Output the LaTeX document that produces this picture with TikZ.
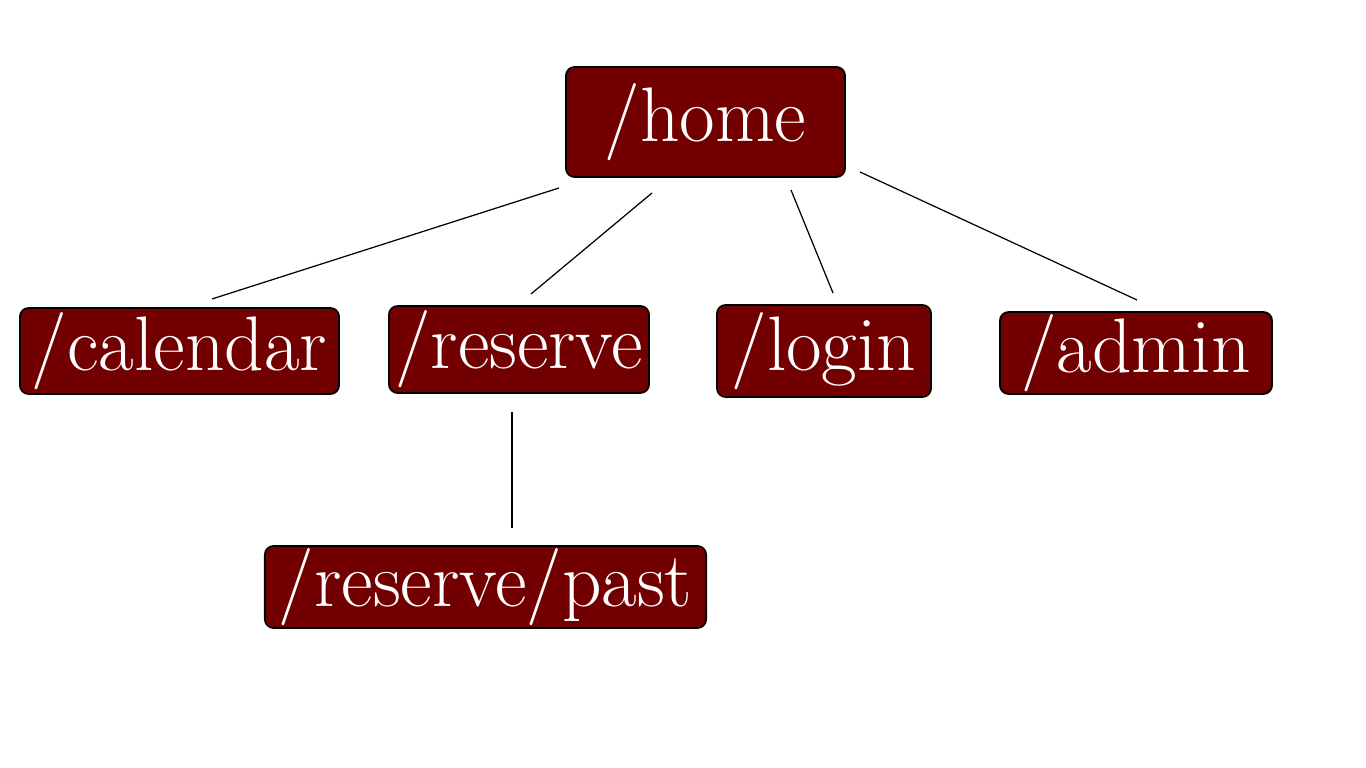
\documentclass[tikz,border=0pt]{standalone}
\usepackage{tikz}
\usetikzlibrary{calc,shapes,arrows,fit,positioning}
\definecolor{pagered}{RGB}{114,0,0}

\begin{document}
\begin{tikzpicture}[x=0.01cm, y=0.01cm]
			\tikzstyle{page}=[draw=black, line width=0.5pt, fill=pagered, text=white, rounded corners=2.5pt, inner sep=0pt, font=\fontsize{22}{26}\selectfont]
			\useasboundingbox (0,0) rectangle (1366,-768);
			\node [page, minimum width=2.79cm, minimum height=1.10cm] (home) at (705.5,-122) {/home};
			\node [page, minimum width=3.19cm, minimum height=0.86cm] (calendar) at (179.5,-351) {/calendar};
			\node [page, minimum width=2.60cm, minimum height=0.87cm] (reserve) at (519,-349.5) {/reserve};
			\node [page, minimum width=2.14cm, minimum height=0.92cm] (login) at (824,-351) {/login};
			\node [page, minimum width=2.72cm, minimum height=0.82cm] (admin) at (1136,-353) {/admin};
			\node [page, minimum width=4.41cm, minimum height=0.82cm] (past) at (485.5,-587) {/reserve/past};
			% loose ends of the links
			\coordinate (home-c) at (559,-188);
			\coordinate (home-r) at (652,-193);
			\coordinate (home-l) at (791,-190);
			\coordinate (home-a) at (860,-172);
			\coordinate (c-top) at (212,-299);
			\coordinate (r-top) at (531,-294);
			\coordinate (l-top) at (833,-293);
			\coordinate (a-top) at (1137,-300);
			\coordinate (r-bot) at (512,-412);
			\coordinate (p-top) at (512,-528);
			\draw [black, line width=0.35pt] (home-c) -- (c-top);
			\draw [black, line width=0.35pt] (home-r) -- (r-top);
			\draw [black, line width=0.35pt] (home-l) -- (l-top);
			\draw [black, line width=0.35pt] (home-a) -- (a-top);
			\draw [black, line width=0.35pt] (r-bot) -- (p-top);
		\end{tikzpicture}
\end{document}
